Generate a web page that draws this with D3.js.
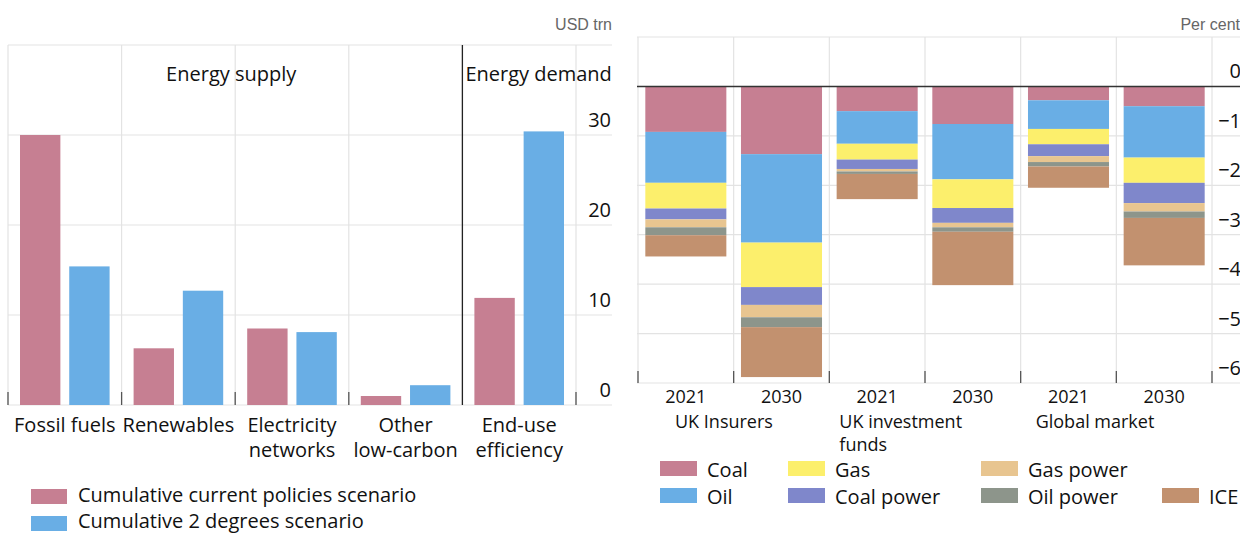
<!DOCTYPE html>
<html>
<head>
<meta charset="utf-8">
<script src="https://cdn.jsdelivr.net/npm/d3@7"></script>
<style>
  body { margin: 0; background: #fff; }
  svg { display: block; }
  text { font-family: "Open Sans", "Noto Sans", sans-serif; fill: #111; }
  .unit { font-family: "Liberation Sans", Arial, sans-serif; fill: #666; }
</style>
</head>
<body>
<div id="chart"></div>
<script>
// ---- left chart data (USD trn) ----
var categories = ["Fossil fuels", "Renewables", "Electricity networks", "Other low-carbon", "End-use efficiency"];
var catLines = [["Fossil fuels"], ["Renewables"], ["Electricity", "networks"], ["Other", "low-carbon"], ["End-use", "efficiency"]];
var scenarios = ["Cumulative current policies scenario", "Cumulative 2 degrees scenario"];
var currentPolicies = [30.0, 6.3, 8.5, 1.0, 11.9];
var twoDegrees = [15.4, 12.7, 8.1, 2.2, 30.4];
var leftTicks = [0, 10, 20, 30];

// ---- right chart data (per cent) ----
var barYears = ["2021", "2030", "2021", "2030", "2021", "2030"];
var groups = [["UK Insurers"], ["UK investment", "funds"], ["Global market"]];
var fuels = ["Coal", "Oil", "Gas", "Coal power", "Gas power", "Oil power", "ICE"];
var coal      = [-0.92, -1.37, -0.50, -0.76, -0.28, -0.40];
var oil       = [-1.03, -1.79, -0.66, -1.12, -0.58, -1.04];
var gas       = [-0.52, -0.90, -0.32, -0.58, -0.31, -0.51];
var coalPower = [-0.22, -0.36, -0.19, -0.30, -0.24, -0.41];
var gasPower  = [-0.16, -0.25, -0.05, -0.09, -0.12, -0.17];
var oilPower  = [-0.16, -0.20, -0.05, -0.09, -0.09, -0.13];
var ice       = [-0.43, -1.01, -0.51, -1.08, -0.43, -0.96];
var rightTicks = [0, -1, -2, -3, -4, -5, -6];

var scenColors = ["#c67f92", "#69aee5"];
var fuelColors = ["#c67f92", "#69aee5", "#fcef6c", "#7f87cb", "#e8c590", "#8d958b", "#c2916f"];
var grid = "#e3e3e3";
var fs = 20;

var svg = d3.select("#chart").append("svg").attr("width", 1240).attr("height", 534);

// ================= LEFT CHART =================
var L = svg.append("g");
var x0 = d3.scaleBand().domain(categories).range([8, 576]);
var x1 = d3.scaleBand().domain(scenarios).range([12, x0.bandwidth() - 12]).paddingInner(0.18);
var y = d3.scaleLinear().domain([0, 40]).range([405, 45]);

// horizontal grid
L.selectAll(".hg").data([0, 10, 20, 30, 40]).enter().append("line")
  .attr("x1", 8).attr("x2", 612)
  .attr("y1", function(d){ return y(d); }).attr("y2", function(d){ return y(d); })
  .attr("stroke", grid).attr("stroke-width", 1.2);
// vertical grid at category boundaries
var bounds = categories.map(function(c){ return x0(c); }).concat([x0.range()[1]]);
L.selectAll(".vg").data(bounds).enter().append("line")
  .attr("x1", function(d){ return d; }).attr("x2", function(d){ return d; })
  .attr("y1", y(40)).attr("y2", y(0))
  .attr("stroke", grid).attr("stroke-width", 1.2);

var rows = categories.map(function(c, i){ return {cat: c, vals: [currentPolicies[i], twoDegrees[i]]}; });
L.selectAll(".grp").data(rows).enter().append("g")
  .attr("transform", function(d){ return "translate(" + x0(d.cat) + ",0)"; })
  .selectAll("rect").data(function(d){ return d.vals.map(function(v, j){ return {s: scenarios[j], v: v, j: j}; }); })
  .enter().append("rect")
  .attr("x", function(d){ return x1(d.s); })
  .attr("width", x1.bandwidth())
  .attr("y", function(d){ return y(d.v); })
  .attr("height", function(d){ return y(0) - y(d.v); })
  .attr("fill", function(d){ return scenColors[d.j]; });

// supply / demand divider
L.append("line").attr("x1", x0("End-use efficiency")).attr("x2", x0("End-use efficiency"))
  .attr("y1", y(40)).attr("y2", y(0)).attr("stroke", "#222").attr("stroke-width", 1.3);

// bottom ticks
L.selectAll(".bt").data(bounds.filter(function(d, i){ return i != 4; })).enter().append("line")
  .attr("x1", function(d){ return d; }).attr("x2", function(d){ return d; })
  .attr("y1", y(0) - 13).attr("y2", y(0)).attr("stroke", "#555").attr("stroke-width", 1.3);

// y labels
L.selectAll(".yl").data(leftTicks).enter().append("text")
  .attr("x", 611).attr("y", function(d){ return y(d) - 8; })
  .attr("text-anchor", "end").attr("font-size", fs).text(function(d){ return d; });

L.append("text").attr("class", "unit").attr("x", 612).attr("y", 30)
  .attr("text-anchor", "end").attr("font-size", 16).text("USD trn");

L.append("text").attr("x", (x0.range()[0] + x0("End-use efficiency")) / 2 - 4).attr("y", 81)
  .attr("text-anchor", "middle").attr("font-size", fs).text("Energy supply");
L.append("text").attr("x", x0("End-use efficiency") + 3).attr("y", 81)
  .attr("font-size", fs).text("Energy demand");

// category labels
catLines.forEach(function(lines, i){
  var t = L.append("text").attr("text-anchor", "middle").attr("font-size", fs);
  lines.forEach(function(s, k){
    t.append("tspan").attr("x", x0(categories[i]) + x0.bandwidth() / 2).attr("y", 432 + k * 25).text(s);
  });
});

// legend
scenarios.forEach(function(s, i){
  L.append("rect").attr("x", 31).attr("y", 489 + i * 27).attr("width", 36).attr("height", 15).attr("fill", scenColors[i]);
  L.append("text").attr("x", 78).attr("y", 502 + i * 26).attr("font-size", fs).text(s);
});

// ================= RIGHT CHART =================
var R = svg.append("g");
var barIds = barYears.map(function(d, i){ return "b" + i; });
var xr = d3.scaleBand().domain(barIds).range([638, 1212]).paddingInner(0.153).paddingOuter(0.0765);
var yr = d3.scaleLinear().domain([-6, 1]).range([383, 37]);

R.selectAll(".hg").data([1, -1, -2, -3, -4, -5, -6]).enter().append("line")
  .attr("x1", 637).attr("x2", 1240)
  .attr("y1", function(d){ return yr(d); }).attr("y2", function(d){ return yr(d); })
  .attr("stroke", grid).attr("stroke-width", 1.2);
var rb = barIds.map(function(b){ return xr(b) - xr.step() * xr.paddingOuter(); }).concat([xr.range()[1]]);
R.selectAll(".vg").data(rb).enter().append("line")
  .attr("x1", function(d){ return d; }).attr("x2", function(d){ return d; })
  .attr("y1", yr(1)).attr("y2", yr(-6))
  .attr("stroke", grid).attr("stroke-width", 1.2);

var series = [coal, oil, gas, coalPower, gasPower, oilPower, ice];
var table = barIds.map(function(b, i){
  var o = {id: b};
  fuels.forEach(function(f, k){ o[f] = series[k][i]; });
  return o;
});
var stacked = d3.stack().keys(fuels).offset(d3.stackOffsetDiverging)(table);

R.selectAll(".layer").data(stacked).enter().append("g")
  .attr("fill", function(d, i){ return fuelColors[i]; })
  .selectAll("rect").data(function(d){ return d; }).enter().append("rect")
  .attr("x", function(d){ return xr(d.data.id); })
  .attr("width", xr.bandwidth())
  .attr("y", function(d){ return yr(Math.max(d[0], d[1])); })
  .attr("height", function(d){ return Math.abs(yr(d[0]) - yr(d[1])); });

// zero line
R.append("line").attr("x1", 637).attr("x2", 1240).attr("y1", yr(0)).attr("y2", yr(0))
  .attr("stroke", "#333").attr("stroke-width", 1.5);

// bottom ticks
R.selectAll(".bt").data(rb).enter().append("line")
  .attr("x1", function(d){ return d; }).attr("x2", function(d){ return d; })
  .attr("y1", yr(-6) - 12).attr("y2", yr(-6)).attr("stroke", "#555").attr("stroke-width", 1.3);

// y labels
R.selectAll(".yl").data(rightTicks).enter().append("text")
  .attr("x", 1241).attr("y", function(d){ return yr(d) - 8; })
  .attr("text-anchor", "end").attr("font-size", fs)
  .text(function(d){ return d < 0 ? "\u2212" + Math.abs(d) : d; });

R.append("text").attr("class", "unit").attr("x", 1240).attr("y", 30)
  .attr("text-anchor", "end").attr("font-size", 16).text("Per cent");

// x labels
R.selectAll(".yr").data(barIds).enter().append("text")
  .attr("x", function(d){ return xr(d) + xr.bandwidth() / 2; }).attr("y", 403)
  .attr("text-anchor", "middle").attr("font-size", 18)
  .text(function(d, i){ return barYears[i]; });
var groupOffsets = [37, 10, 15];
groups.forEach(function(lines, g){
  var t = R.append("text").attr("font-size", 18);
  lines.forEach(function(s, k){
    t.append("tspan").attr("x", rb[g * 2] + groupOffsets[g]).attr("y", 428 + k * 23).text(s);
  });
});

// legend
var legPos = [[660, 0], [660, 1], [788, 0], [788, 1], [981, 0], [981, 1], [1162, 1]];
var legOrder = ["Coal", "Oil", "Gas", "Coal power", "Gas power", "Oil power", "ICE"];
legOrder.forEach(function(f, i){
  var p = legPos[i];
  R.append("rect").attr("x", p[0]).attr("y", 461 + p[1] * 27).attr("width", 37).attr("height", 15)
    .attr("fill", fuelColors[fuels.indexOf(f)]);
  R.append("text").attr("x", p[0] + 47).attr("y", 477 + p[1] * 27).attr("font-size", fs).text(f);
});
</script>
</body>
</html>
